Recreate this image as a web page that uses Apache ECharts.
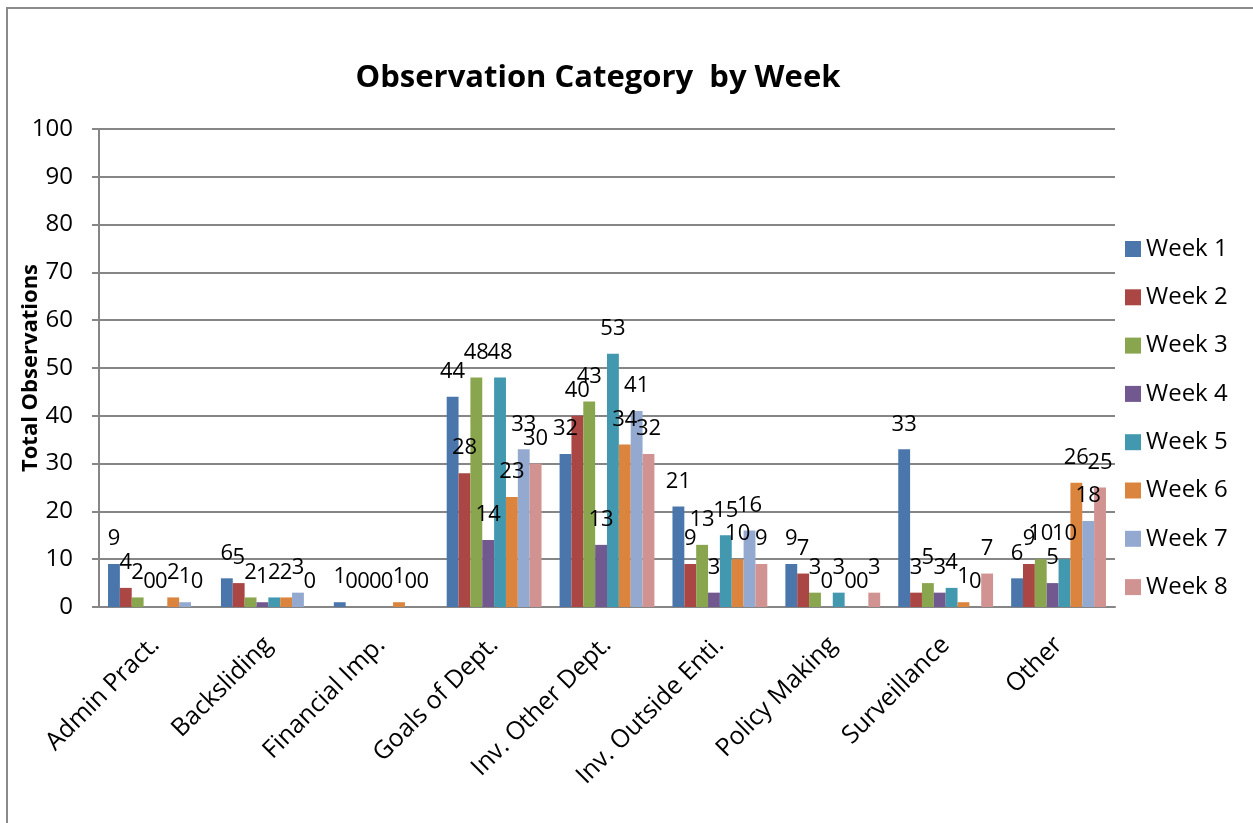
<!DOCTYPE html>
<html>
<head>
<meta charset="utf-8">
<script src="https://cdn.jsdelivr.net/npm/echarts@6/dist/echarts.min.js"></script>
<style>
  html, body { margin: 0; padding: 0; background: #fff; }
  #frame {
    position: absolute; left: 6px; top: 7px; width: 1250px; height: 820px;
    border-top: 2px solid #8a8a8a; border-left: 2px solid #8a8a8a;
  }
  #chart { position: absolute; left: 0; top: 0; width: 1253px; height: 823px; }
</style>
</head>
<body>
<div id="frame"></div>
<div id="chart"></div>
<script>
// 类别
const categories = ['Admin Pract.', 'Backsliding', 'Financial Imp.', 'Goals of Dept.',
  'Inv. Other Dept.', 'Inv. Outside Enti.', 'Policy Making', 'Surveillance', 'Other']

// 每周数据
const week1 = [9, 6, 1, 44, 32, 21, 9, 33, 6]
const week2 = [4, 5, 0, 28, 40, 9, 7, 3, 9]
const week3 = [2, 2, 0, 48, 43, 13, 3, 5, 10]
const week4 = [0, 1, 0, 14, 13, 3, 0, 3, 5]
const week5 = [0, 2, 0, 48, 53, 15, 3, 4, 10]
const week6 = [2, 2, 1, 23, 34, 10, 0, 1, 26]
const week7 = [1, 3, 0, 33, 41, 16, 0, 0, 18]
const week8 = [0, 0, 0, 30, 32, 9, 3, 7, 25]

const seriesNames = ['Week 1', 'Week 2', 'Week 3', 'Week 4', 'Week 5', 'Week 6', 'Week 7', 'Week 8']
const seriesData = [week1, week2, week3, week4, week5, week6, week7, week8]
const colors = ['#4A76AC', '#AA4643', '#89A54E', '#71588F', '#4198AF', '#DB843D', '#93A9CF', '#D19392']

const font = '"Open Sans", sans-serif'

const chart = echarts.init(document.getElementById('chart'))

chart.setOption({
  animation: false,
  color: colors,
  textStyle: { fontFamily: font },
  title: {
    text: 'Observation Category  by Week',
    left: 593,
    top: 58,
    textAlign: 'center',
    textStyle: { fontSize: 31, fontWeight: 'bold', color: '#000', fontFamily: font }
  },
  legend: {
    orient: 'vertical',
    left: 1120,
    top: 232,
    itemWidth: 16,
    itemHeight: 16,
    itemGap: 24.3,
    icon: 'rect',
    textStyle: { fontSize: 24, color: '#000', fontFamily: font },
    data: seriesNames
  },
  grid: {
    left: 99,
    right: 138,
    top: 129,
    bottom: 216,
    containLabel: false
  },
  xAxis: {
    type: 'category',
    data: categories,
    axisLine: { lineStyle: { color: '#868686', width: 2 } },
    axisTick: { show: false },
    axisLabel: {
      rotate: 45,
      interval: 0,
      fontSize: 25,
      color: '#000',
      fontFamily: font,
      margin: 34
    }
  },
  yAxis: {
    type: 'value',
    min: 0,
    max: 100,
    interval: 10,
    name: 'Total Observations',
    nameLocation: 'middle',
    nameGap: 57,
    nameMoveOverlap: false,
    nameTextStyle: { fontSize: 22, fontWeight: 'bold', color: '#000', fontFamily: font },
    axisLine: { show: true, lineStyle: { color: '#868686', width: 2 } },
    axisTick: { show: true, length: 7, lineStyle: { color: '#868686', width: 2 } },
    axisLabel: { fontSize: 24, color: '#000', fontFamily: font, margin: 26 },
    splitLine: { lineStyle: { color: '#868686', width: 2 } }
  },
  series: seriesNames.map((name, i) => ({
    name: name,
    type: 'bar',
    data: seriesData[i],
    barGap: '0%',
    barCategoryGap: '16%',
    label: {
      show: true,
      position: 'top',
      distance: 14,
      fontSize: 22,
      color: '#000',
      fontFamily: font
    }
  }))
})
</script>
</body>
</html>
